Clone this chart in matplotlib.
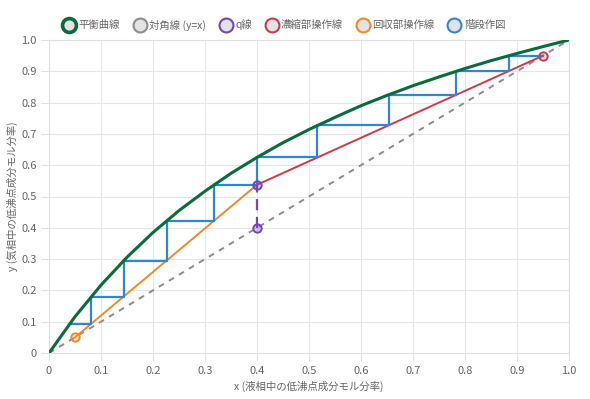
import numpy as np
import matplotlib.pyplot as plt
from matplotlib.lines import Line2D

plt.rcParams['font.family'] = ['Noto Sans CJK JP', 'DejaVu Sans']

# equilibrium curve
eq_x = [0.0, 0.05, 0.1, 0.15, 0.2, 0.25, 0.3, 0.35, 0.4, 0.45, 0.5,
        0.55, 0.6, 0.65, 0.7, 0.75, 0.8, 0.85, 0.9, 0.95, 1.0]
eq_y = [0.0, 0.116, 0.217, 0.306, 0.385, 0.455, 0.517, 0.574, 0.625, 0.672, 0.714,
        0.753, 0.790, 0.823, 0.854, 0.882, 0.909, 0.934, 0.957, 0.979, 1.0]

diag_x = [0.0, 1.0]
diag_y = [0.0, 1.0]

q_x = [0.4, 0.4]
q_y = [0.4, 0.5375]

rect_x = [0.95, 0.4]
rect_y = [0.95, 0.5375]

strip_x = [0.05, 0.4]
strip_y = [0.05, 0.5375]

# staircase corners
step_x = [0.95, 0.884, 0.884, 0.783, 0.783, 0.653, 0.653, 0.516, 0.516, 0.400,
          0.400, 0.317, 0.317, 0.226, 0.226, 0.1435, 0.1435, 0.081, 0.081, 0.039]
step_y = [0.95, 0.95, 0.900, 0.900, 0.825, 0.825, 0.7275, 0.7275, 0.625, 0.625,
          0.537, 0.537, 0.422, 0.422, 0.295, 0.295, 0.180, 0.180, 0.093, 0.093]

labels = ['平衡曲線', '対角線 (y=x)', 'q線', '濃縮部操作線', '回収部操作線', '階段作図']
c_eq = '#0b6b3a'
c_diag = '#8c8c8c'
c_q = '#7446b8'
c_rect = '#cc3b4a'
c_strip = '#ef8a2c'
c_step = '#2f86d8'

fig = plt.figure(figsize=(5.9, 3.99), dpi=100)
ax = fig.add_axes([49 / 590, 46 / 399, 520 / 590, 313 / 399])

ax.plot(diag_x, diag_y, color=c_diag, lw=1.4, ls=(0, (3, 3)), zorder=2)
ax.plot(strip_x, strip_y, color=c_strip, lw=1.4, zorder=3)
ax.plot(rect_x, rect_y, color=c_rect, lw=1.4, zorder=3)
ax.plot(step_x, step_y, color=c_step, lw=1.6, zorder=4)
ax.plot(q_x, q_y, color=c_q, lw=1.6, ls=(0, (5, 3)), zorder=5)
ax.plot(eq_x, eq_y, color=c_eq, lw=2.2, zorder=6, solid_capstyle='round')

ax.plot(q_x, q_y, ls='none', marker='o', ms=6, mfc=(0.46, 0.27, 0.72, 0.3),
        mec=c_q, mew=1.4, zorder=7)
ax.plot(rect_x[:1], rect_y[:1], ls='none', marker='o', ms=6, mfc=(0.8, 0.23, 0.29, 0.2),
        mec=c_rect, mew=1.4, zorder=7)
ax.plot(strip_x[:1], strip_y[:1], ls='none', marker='o', ms=6, mfc=(0.94, 0.54, 0.17, 0.2),
        mec=c_strip, mew=1.4, zorder=7)

ax.set_xlim(0, 1)
ax.set_ylim(0, 1)
ticks = np.arange(0, 1.01, 0.1)
ax.set_xticks(ticks)
ax.set_yticks(ticks)
tick_labels = ['0', '0.1', '0.2', '0.3', '0.4', '0.5', '0.6', '0.7', '0.8', '0.9', '1.0']
ax.set_xticklabels(tick_labels)
ax.set_yticklabels(tick_labels)
ax.tick_params(colors='#e0e0e0', labelcolor='#666666', labelsize=8, length=6, width=0.8, pad=3)
ax.grid(color='#e6e6e6', lw=0.8)
for s in ax.spines.values():
    s.set_color('#e0e0e0')
    s.set_linewidth(0.8)
ax.set_axisbelow(True)

ax.set_xlabel('x (液相中の低沸点成分モル分率)', fontsize=7.5, color='#666666', labelpad=4)
ax.set_ylabel('y (気相中の低沸点成分モル分率)', fontsize=7.5, color='#666666')
ax.yaxis.set_label_coords(-31 / 520, 0.5)

colors = [c_eq, c_diag, c_q, c_rect, c_strip, c_step]
handles = []
for i, c in enumerate(colors):
    handles.append(Line2D([], [], ls='none', marker='o', ms=10, mfc='#e3e3e3',
                          mec=c, mew=2.6 if i == 0 else 1.5))
fig.legend(handles, labels, loc='center', bbox_to_anchor=(284 / 590, 1 - 25 / 399),
           ncol=6, frameon=False, fontsize=7.5, handletextpad=0.3, columnspacing=1.3,
           labelcolor='#666666', handlelength=1.2)

fig.savefig('out.png', dpi=100)
